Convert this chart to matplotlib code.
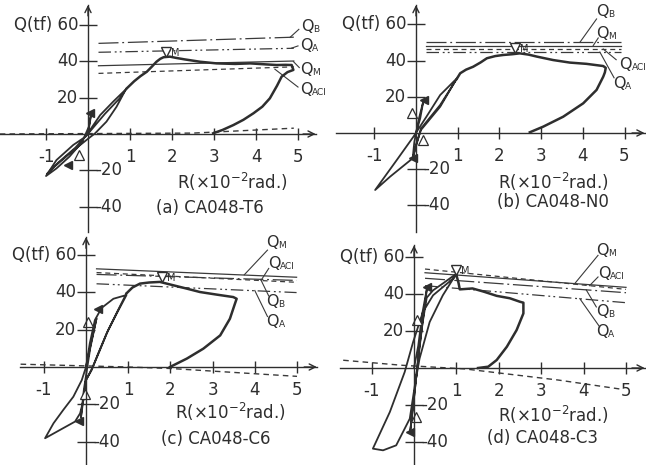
import matplotlib
matplotlib.use('Agg')
from matplotlib import pyplot as plt

plt.rcParams['font.family'] = ['DejaVu Sans']

# R in 1e-2 rad, Q in tf

r_ticks = [-1, 1, 2, 3, 4, 5]
q_ticks = [-40, -20, 20, 40, 60]

# (a) CA048-T6
t6_cyc_r = [0.00, 0.05, 0.08, 0.02, -0.14, -0.44, -0.75, -1.00, -0.75, -0.35, -0.06, 0.29, 0.60, 0.90,
            0.68, 0.44, 0.17, -0.02, -0.40, -0.80, -0.98, -0.70, -0.30, 0.05, 0.40, 0.75, 0.92]
t6_cyc_q = [0.0, 7.0, 12.0, 4.0, -4.4, -12.4, -18.9, -23.1, -14.3, -6.0, -1.5, 10.4, 17.8, 24.5,
            15.0, 6.8, 0.4, -3.0, -10.0, -18.0, -22.0, -15.5, -7.5, 1.5, 11.0, 19.5, 25.0]
t6_env_r = [0.92, 1.10, 1.25, 1.40, 1.52, 1.63, 1.72, 1.80, 1.95, 2.10, 2.30, 2.67, 3.06, 3.50, 3.86,
            4.20, 4.49, 4.70, 4.85, 4.89, 4.75, 4.61, 4.50, 4.33, 4.15, 3.94, 3.70, 3.46, 3.20, 2.98]
t6_env_q = [25.0, 29.0, 31.8, 34.2, 37.0, 39.7, 41.3, 42.2, 42.5, 41.8, 41.0, 39.7, 38.8, 38.5, 38.8,
            38.3, 37.9, 38.0, 37.9, 35.2, 34.0, 31.5, 26.5, 19.6, 15.0, 11.4, 7.8, 4.9, 2.2, 0.4]
t6_base_r = [-2.10, 2.50, 4.90]
t6_base_q = [0.0, 0.5, 3.2]
t6_ref_r = [0.25, 4.90]
t6_qb = [49.8, 53.2]
t6_qa = [44.9, 47.1]
t6_qm = [37.5, 40.1]
t6_qaci = [33.3, 36.9]
t6_peak = (1.85, 45.2)
t6_open_r, t6_open_q = [-0.21], [-11.5]
t6_fill_r, t6_fill_q = [0.05, -0.47], [11.4, -17.0]

# (b) CA048-N0
n0_cyc_r = [0.00, 0.10, 0.18, 0.06, -0.04, -0.08, 0.02, 0.12, 0.58, 0.98, 0.58, 0.25, -0.06, -0.46,
            -0.98, -0.62, -0.08, 0.12, 0.58, 0.98]
n0_cyc_q = [0.0, 8.0, 18.0, 7.0, -5.0, -14.0, -5.0, 1.7, 14.5, 30.2, 21.0, 9.0, -2.0, -14.9,
            -31.5, -24.1, -14.0, 2.5, 15.5, 30.0]
n0_env_r = [0.98, 1.06, 1.20, 1.37, 1.55, 1.70, 1.90, 2.09, 2.30, 2.49, 2.70, 2.90, 3.29, 3.69, 4.09,
            4.49, 4.55, 4.53, 4.49, 4.33, 4.01, 3.53, 3.05, 2.73]
n0_env_q = [30.0, 33.0, 35.0, 36.6, 39.0, 41.3, 42.5, 43.1, 43.5, 44.0, 43.3, 42.2, 40.3, 38.9, 38.2,
            37.0, 36.0, 33.5, 31.1, 23.8, 16.4, 9.0, 3.5, 0.4]
n0_ref_r = [0.24, 4.92]
n0_qb = [50.1, 50.1]
n0_qm = [48.3, 48.3]
n0_qaci = [46.4, 46.4]
n0_qa = [44.7, 44.7]
n0_peak = (2.37, 46.8)
n0_open_r, n0_open_q = [-0.10, 0.17], [10.9, -3.9]
n0_fill_r, n0_fill_q = [0.18, -0.08], [18.2, -14.0]

# (c) CA048-C6
c6_cyc_r = [0.00, 0.12, 0.25, 0.10, -0.05, -0.12, 0.00, 0.13, 0.29, 0.49, 0.73, 0.96, 0.65, 0.37, 0.21,
            0.09, 0.00, -0.10, -0.30, -0.54, -0.77, -0.97, -0.62, -0.26, -0.14, -0.06, 0.00, 0.15, 0.32,
            0.52, 0.75, 0.96]
c6_cyc_q = [0.0, 13.0, 26.0, 10.0, -12.0, -27.0, -7.0, -1.8, 7.3, 18.0, 28.7, 38.5, 36.5, 31.6, 25.1,
            12.7, 0.0, -7.0, -15.9, -23.0, -30.1, -38.1, -33.7, -29.2, -24.8, -17.6, -7.0, -0.5, 8.5,
            19.5, 30.0, 39.4]
c6_env_r = [0.96, 1.10, 1.28, 1.50, 1.75, 2.07, 2.39, 2.70, 3.10, 3.49, 3.57, 3.53, 3.41, 3.18, 2.78,
            2.39, 1.99]
c6_env_q = [39.4, 42.5, 44.6, 45.2, 45.5, 43.7, 41.9, 40.1, 38.7, 37.4, 36.5, 33.9, 25.8, 16.9, 9.8,
            4.5, 0.0]
c6_base_r = [-1.55, 1.00, 2.00, 5.00]
c6_base_q = [1.5, 0.0, -0.8, -5.0]
c6_ref_r = [0.25, 4.99]
c6_qm = [52.5, 48.0]
c6_qaci = [50.5, 45.3]
c6_qb = [49.5, 46.3]
c6_qa = [44.5, 39.8]
c6_peak = (1.79, 48.1)
c6_open_r, c6_open_q = [0.05, -0.02], [24.1, -14.6]
c6_fill_r, c6_fill_q = [0.29, -0.17], [31.2, -29.0]

# (d) CA048-C3
c3_cyc_r = [0.00, 0.10, 0.20, 0.31, 0.22, 0.12, 0.02, -0.09, 0.00, 0.10, 0.20, 0.30, 0.45, 0.70, 1.00,
            0.68, 0.37, 0.13, 0.02, -0.10, -0.42, -0.73, -0.97, -0.57, -0.22, -0.02, 0.21, 0.45, 0.92,
            1.00]
c3_cyc_q = [0.0, 12.0, 30.0, 43.6, 28.0, 10.0, -12.0, -34.4, -16.0, 5.0, 24.0, 38.0, 42.0, 46.0, 51.0,
            39.3, 24.9, 5.0, -9.4, -27.4, -41.8, -44.5, -43.6, -23.8, -2.2, 14.1, 30.3, 39.3, 48.3,
            50.3]
c3_env_r = [1.00, 1.05, 1.08, 1.38, 1.64, 1.95, 2.26, 2.50, 2.58, 2.58, 2.42, 2.19, 1.95, 1.75, 1.51]
c3_env_q = [50.3, 46.0, 42.5, 43.0, 41.3, 39.0, 37.7, 35.8, 35.3, 29.5, 20.5, 11.5, 4.3, 0.7, 0.0]
c3_base_r = [-1.67, -0.30, 1.20, 3.40, 4.90]
c3_base_q = [4.2, 1.5, -0.5, -6.5, -11.5]
c3_ref_r = [0.26, 5.00]
c3_qaci = [53.5, 42.5]
c3_qm = [51.5, 43.6]
c3_qb = [48.5, 40.7]
c3_qa = [44.5, 35.3]
c3_peak = (1.00, 53.0)
c3_open_r, c3_open_q = [0.06, 0.05], [25.9, -26.3]
c3_fill_r, c3_fill_q = [0.31, -0.09], [43.6, -34.4]

W, H = 646, 465
INK = '#2e2e2e'
LINE_STY = {'B': (0, (16, 3, 1.5, 3)), 'A': (0, (10, 3, 1.5, 2.5, 1.5, 3)),
            'M': '-', 'ACI': (0, (4, 3))}

panels = [
    dict(cap='(a) CA048-T6', box=(0, 0, 323, 232), org=(88, 134), scl=(42.0, 1.82),
         xax=(-2.10, 5.42), ytop=70.9, rlab=(3.45, -26.4), clab=(2.89, -40.7),
         cyc=(t6_cyc_r, t6_cyc_q), env=(t6_env_r, t6_env_q), base=(t6_base_r, t6_base_q),
         ref=(t6_ref_r, {'B': t6_qb, 'A': t6_qa, 'M': t6_qm, 'ACI': t6_qaci}),
         lab={'B': ((5.08, 59.3), (4.81, 53.1), (5.02, 57.5)),
              'A': ((5.05, 48.9), (4.85, 47.2), (5.00, 48.4)),
              'M': ((5.05, 35.2), (4.89, 39.8), (5.03, 36.5)),
              'ACI': ((5.05, 24.2), (4.45, 35.6), (5.00, 25.8))},
         peak=t6_peak, opn=(t6_open_r, t6_open_q), fil=(t6_fill_r, t6_fill_q)),
    dict(cap='(b) CA048-N0', box=(323, 0, 646, 232), org=(416, 133), scl=(41.7, 1.81),
         xax=(-1.92, 5.48), ytop=70.7, rlab=(3.29, -26.9), clab=(3.29, -38.0),
         cyc=(n0_cyc_r, n0_cyc_q), env=(n0_env_r, n0_env_q), base=None,
         ref=(n0_ref_r, {'B': n0_qb, 'M': n0_qm, 'ACI': n0_qaci, 'A': n0_qa}),
         lab={'B': ((4.32, 67.0), (3.93, 50.1), (4.33, 63.0)),
              'M': ((4.32, 55.0), (4.25, 48.3), (4.37, 52.5)),
              'ACI': ((4.88, 37.6), (4.49, 46.4), (4.80, 40.5)),
              'A': ((4.72, 27.5), (4.41, 44.7), (4.75, 30.5))},
         peak=n0_peak, opn=(n0_open_r, n0_open_q), fil=(n0_fill_r, n0_fill_q)),
    dict(cap='(c) CA048-C6', box=(0, 232, 323, 465), org=(86, 367), scl=(42.2, 1.87),
         xax=(-1.56, 5.47), ytop=69.5, rlab=(3.43, -24.1), clab=(3.08, -38.3),
         cyc=(c6_cyc_r, c6_cyc_q), env=(c6_env_r, c6_env_q), base=(c6_base_r, c6_base_q),
         ref=(c6_ref_r, {'M': c6_qm, 'ACI': c6_qaci, 'B': c6_qb, 'A': c6_qa}),
         lab={'M': ((4.28, 66.8), (3.75, 49.3), (4.30, 62.5)),
              'ACI': ((4.32, 55.2), (4.15, 46.4), (4.33, 52.7)),
              'B': ((4.28, 34.8), (4.14, 46.8), (4.33, 38.0)),
              'A': ((4.28, 24.1), (4.00, 40.9), (4.30, 27.0))},
         peak=c6_peak, opn=(c6_open_r, c6_open_q), fil=(c6_fill_r, c6_fill_q)),
    dict(cap='(d) CA048-C3', box=(323, 232, 646, 465), org=(414, 368), scl=(42.4, 1.85),
         xax=(-1.75, 5.44), ytop=66.3, rlab=(3.29, -25.6), clab=(3.03, -37.8),
         cyc=(c3_cyc_r, c3_cyc_q), env=(c3_env_r, c3_env_q), base=(c3_base_r, c3_base_q),
         ref=(c3_ref_r, {'ACI': c3_qaci, 'M': c3_qm, 'B': c3_qb, 'A': c3_qa}),
         lab={'M': ((4.30, 63.6), (3.79, 45.6), (4.34, 60.9)),
              'ACI': ((4.34, 51.0), (4.14, 44.5), (4.34, 49.2)),
              'B': ((4.30, 30.3), (4.06, 42.3), (4.30, 33.0)),
              'A': ((4.30, 19.5), (3.91, 37.5), (4.38, 22.2))},
         peak=c3_peak, opn=(c3_open_r, c3_open_q), fil=(c3_fill_r, c3_fill_q)),
]


def draw_panel(fig, p):
    x0, y0, x1, y1 = p['box']
    ox, oy = p['org']
    sx, sy = p['scl']
    ax = fig.add_axes([x0 / W, 1 - y1 / H, (x1 - x0) / W, (y1 - y0) / H])
    ax.patch.set_visible(False)
    xmin, xmax = (x0 - ox) / sx, (x1 - ox) / sx
    ymin, ymax = (oy - y1) / sy, (oy - y0) / sy
    ax.set_xlim(xmin, xmax)
    ax.set_ylim(ymin, ymax)

    # axes through the origin, ticks crossing the lines
    for side in ('top', 'right'):
        ax.spines[side].set_visible(False)
    ax.spines['left'].set_position(('data', 0))
    ax.spines['bottom'].set_position(('data', 0))
    ax.spines['left'].set_bounds(ymin, p['ytop'])
    ax.spines['bottom'].set_bounds(p['xax'][0], p['xax'][1])
    for s in ('left', 'bottom'):
        ax.spines[s].set_color(INK)
        ax.spines[s].set_linewidth(1.0)
    ax.set_xticks(r_ticks)
    ax.set_yticks(q_ticks)
    ax.tick_params(axis='x', direction='inout', length=9, width=1.0, color=INK, labelbottom=False)
    ax.tick_params(axis='y', direction='inout', length=13, width=1.0, color=INK, labelleft=False)
    arr = dict(arrowstyle='->', lw=1.0, color=INK, shrinkA=0, shrinkB=0, mutation_scale=11)
    ax.annotate('', xy=(p['xax'][1], 0), xytext=(p['xax'][1] - 0.3, 0), arrowprops=arr)
    ax.annotate('', xy=(0, p['ytop']), xytext=(0, p['ytop'] - 6), arrowprops=arr)

    fs = 12
    for v in r_ticks:
        ax.annotate(str(v), (v, 0), xytext=(0, -14), textcoords='offset pixels',
                    ha='center', va='top', fontsize=fs, color=INK)
    for v in q_ticks:
        if v > 0:
            txt = 'Q(tf) 60' if v == 60 else str(v)
            ax.annotate(txt, (0, v), xytext=(-10, 0), textcoords='offset pixels',
                        ha='right', va='center', fontsize=fs, color=INK)
        else:
            ax.annotate(str(v), (0, v), xytext=(7, 0), textcoords='offset pixels',
                        ha='left', va='center', fontsize=fs, color=INK)
    ax.text(*p['rlab'], 'R(\u00d710$^{-2}$rad.)', ha='center', va='center', fontsize=fs, color=INK)
    ax.text(*p['clab'], p['cap'], ha='center', va='center', fontsize=fs, color=INK)

    # reference strength lines and their labels
    ref_r, refs = p['ref']
    for key, vals in refs.items():
        ax.plot(ref_r, vals, color='#3a3a3a', lw=0.9, linestyle=LINE_STY[key])
        (tx, ty), (lx0, ly0), (lx1, ly1) = p['lab'][key]
        ax.plot([lx0, lx1], [ly0, ly1], color='#3a3a3a', lw=0.8)
        ax.text(tx, ty, 'Q', ha='left', va='center', fontsize=11.5, color=INK, clip_on=False)
        ax.annotate(key, (tx, ty), xytext=(12, -3), textcoords='offset pixels',
                    ha='left', va='center', fontsize=6.5, color=INK)

    if p['base'] is not None:
        ax.plot(p['base'][0], p['base'][1], color='#3a3a3a', lw=1.0, linestyle=(0, (4, 3)))

    # hysteresis curves
    ax.plot(p['cyc'][0], p['cyc'][1], color=INK, lw=1.3, solid_joinstyle='round')
    ax.plot(p['env'][0], p['env'][1], color=INK, lw=1.8, solid_joinstyle='round')

    # event markers
    px, py = p['peak']
    ax.plot([px], [py], marker='v', ms=7, mfc='white', mec=INK, mew=1.0, ls='none')
    ax.annotate('M', (px, py), xytext=(5, -1), textcoords='offset pixels',
                ha='left', va='center', fontsize=7, color=INK)
    ax.plot(p['opn'][0], p['opn'][1], marker='^', ms=6.5, mfc='white', mec=INK, mew=0.9, ls='none')
    ax.plot(p['fil'][0], p['fil'][1], marker='<', ms=6, color=INK, ls='none')
    return ax


fig = plt.figure(figsize=(W / 100, H / 100), dpi=100)
for p in panels:
    draw_panel(fig, p)
fig.savefig('out.png', dpi=100)
